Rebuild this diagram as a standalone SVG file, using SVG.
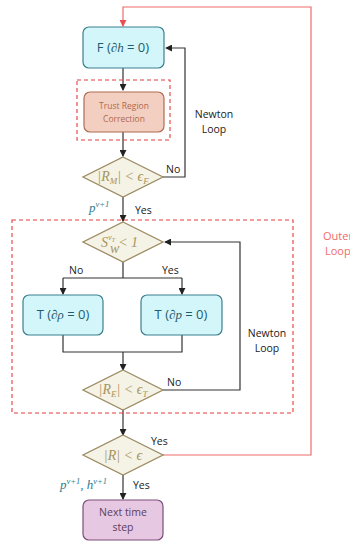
<svg xmlns="http://www.w3.org/2000/svg" width="350" height="542" viewBox="0 0 350 542">
<defs>
<marker id="ah" viewBox="0 0 8 8" refX="7" refY="4" markerWidth="7" markerHeight="7" markerUnits="userSpaceOnUse" orient="auto"><path d="M0,0 L8,4 L0,8 z" fill="#222"/></marker>
<marker id="ahr" viewBox="0 0 8 8" refX="7" refY="4" markerWidth="7" markerHeight="7" markerUnits="userSpaceOnUse" orient="auto"><path d="M0,0 L8,4 L0,8 z" fill="#e8504f"/></marker>
</defs>
<style>
.ln{fill:none;stroke:#333;stroke-width:1.2}
.red{fill:none;stroke:#ef6b6b;stroke-width:1.2}
.dash{fill:none;stroke:#e63c3c;stroke-width:1.1;stroke-dasharray:4,3}
.proc{fill:#d3f6fb;stroke:#3b7f8d;stroke-width:1.2}
.dia{fill:#f5f2e6;stroke:#9b8b62;stroke-width:1.3}
.lbl{font-family:"Open Sans","Liberation Sans",sans-serif;font-size:10.5px;fill:#222}
.math{font-family:"Liberation Serif","DejaVu Serif",serif;font-style:italic}
.dt{font-size:14px;fill:#a5955f;text-anchor:middle}
.ds{font-size:14px;fill:#a5955f}
.pt{font-family:"Open Sans","Liberation Sans",sans-serif;font-size:13px;fill:#1f5c6c;text-anchor:middle}
.teal{fill:#2e7c8c;font-size:13px}
</style>
<g id="connectors">
<path class="ln" d="M123,68 V90" marker-end="url(#ah)"/>
<path class="ln" d="M123,132 V156" marker-end="url(#ah)"/>
<path class="ln" d="M163,177 H185 V48 H166" marker-end="url(#ah)"/>
<path class="ln" d="M123,197 V221" marker-end="url(#ah)"/>
<path class="ln" d="M123,262 V278 M63,278 H182 M63,278 V294" marker-end="url(#ah)"/>
<path class="ln" d="M182,278 V294" marker-end="url(#ah)"/>
<path class="ln" d="M63,335 V352 H182 V335 M123,352 V370" marker-end="url(#ah)"/>
<path class="ln" d="M163,390 H240 V242 H165" marker-end="url(#ah)"/>
<path class="ln" d="M123,410 V435" marker-end="url(#ah)"/>
<path class="ln" d="M123,475 V499" marker-end="url(#ah)"/>
<path class="red" d="M163,455 H311 V7 H123 V26" marker-end="url(#ahr)"/>
<text class="lbl" x="166" y="173">No</text>
<text class="lbl" x="135" y="214">Yes</text>
<text class="lbl" x="69" y="274">No</text>
<text class="lbl" x="162" y="274">Yes</text>
<text class="lbl" x="167" y="386">No</text>
<text class="lbl" x="151" y="445">Yes</text>
<text class="lbl" x="133" y="489">Yes</text>
<text class="lbl" x="214" y="118" text-anchor="middle">Newton</text>
<text class="lbl" x="214" y="133" text-anchor="middle">Loop</text>
<text class="lbl" x="267" y="337" text-anchor="middle">Newton</text>
<text class="lbl" x="267" y="352" text-anchor="middle">Loop</text>
<text class="lbl" x="323" y="240" style="fill:#ef6b6b;font-size:11px">Outer</text>
<text class="lbl" x="325" y="255" style="fill:#ef6b6b;font-size:11px">Loop</text>
<text class="math teal" x="89" y="212">p<tspan font-size="8.5" dy="-5">v+1</tspan></text>
<text class="math teal" x="60" y="489">p<tspan font-size="8.5" dy="-5">v+1</tspan><tspan dy="5">, h</tspan><tspan font-size="8.5" dy="-5">v+1</tspan></text>
</g>
<g id="trust-box">
<rect class="dash" x="77" y="80" width="93" height="60"/>
<rect x="84" y="92" width="80" height="40" rx="6" fill="#f3cfc1" stroke="#b06b52" stroke-width="1.2"/>
<text x="124" y="109" text-anchor="middle" font-family="Open Sans,Liberation Sans,sans-serif" font-size="8.5" fill="#b0694d">Trust Region</text>
<text x="124" y="122" text-anchor="middle" font-family="Open Sans,Liberation Sans,sans-serif" font-size="8.5" fill="#b0694d">Correction</text>
</g>
<g id="T-region">
<rect class="dash" x="12" y="220" width="281" height="193"/>
</g>
<g id="F">
<rect class="proc" x="83" y="27" width="81" height="41" rx="6"/>
<text class="pt" x="123" y="52">F (<tspan class="math">∂h</tspan> = 0)</text>
</g>
<g id="RM">
<polygon class="dia" points="123,157 163,177 123,197 83,177"/>
<text class="math dt" x="123" y="181">|R<tspan font-size="9" dy="3">M</tspan><tspan dy="-3">| &lt; ϵ</tspan><tspan font-size="9" dy="3">F</tspan></text>
</g>
<g id="Sw">
<polygon class="dia" points="123,222 163,242 123,262 83,242"/>
<text class="math ds" x="101" y="247">S<tspan font-size="8.5" dy="-7">v</tspan><tspan font-size="6" dy="2">T</tspan><tspan dx="3" dy="5">&lt; 1</tspan></text>
<text class="math ds" x="110" y="253" font-size="8.5">w</text>
</g>
<g id="Trho">
<rect class="proc" x="23" y="295" width="80" height="40" rx="6"/>
<text class="pt" x="63" y="319">T (<tspan class="math">∂ρ</tspan> = 0)</text>
</g>
<g id="Tp">
<rect class="proc" x="141" y="295" width="81" height="40" rx="6"/>
<text class="pt" x="181" y="319">T (<tspan class="math">∂p</tspan> = 0)</text>
</g>
<g id="RE">
<polygon class="dia" points="123,370 163,390 123,410 83,390"/>
<text class="math dt" x="123" y="394">|R<tspan font-size="9" dy="3">E</tspan><tspan dy="-3">| &lt; ϵ</tspan><tspan font-size="9" dy="3">T</tspan></text>
</g>
<g id="R">
<polygon class="dia" points="123,435 163,455 123,475 83,455"/>
<text class="math dt" x="123" y="460">|R| &lt; ϵ</text>
</g>
<g id="next">
<rect x="83" y="500" width="80" height="40" rx="6" fill="#e6c8e3" stroke="#7c4c7a" stroke-width="1.2"/>
<text x="123" y="516" text-anchor="middle" font-family="Open Sans,Liberation Sans,sans-serif" font-size="10.5" fill="#5d3d5c">Next time</text>
<text x="123" y="531" text-anchor="middle" font-family="Open Sans,Liberation Sans,sans-serif" font-size="10.5" fill="#5d3d5c">step</text>
</g>
</svg>
